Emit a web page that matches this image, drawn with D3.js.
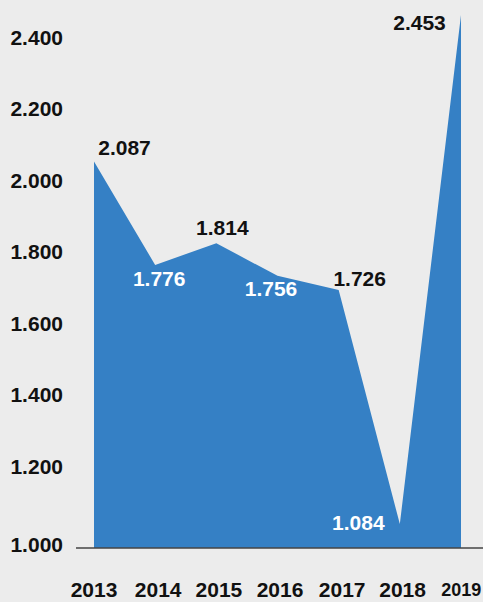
<!DOCTYPE html>
<html>
<head>
<meta charset="utf-8">
<script src="https://cdn.jsdelivr.net/npm/d3@7"></script>
<style>
  html, body { margin: 0; padding: 0; background: #ececec; }
  svg { display: block; }
  text { font-family: "Liberation Sans", Arial, Helvetica, sans-serif; font-weight: bold; }
</style>
</head>
<body>
<svg id="chart" width="483" height="602"></svg>
<script>
// ---- data ----
const years = ["2013", "2014", "2015", "2016", "2017", "2018", "2019"];
// heights as drawn in the picture
const plotValues = [2.065, 1.780, 1.840, 1.750, 1.711, 1.066, 2.469];
// values printed as labels
const labelValues = ["2.087", "1.776", "1.814", "1.756", "1.726", "1.084", "2.453"];
const yTicks = [1.0, 1.2, 1.4, 1.6, 1.8, 2.0, 2.2, 2.4];
const yTickLabels = ["1.000", "1.200", "1.400", "1.600", "1.800", "2.000", "2.200", "2.400"];

// ---- layout ----
const W = 483, H = 602;
const svg = d3.select("#chart");
svg.append("rect").attr("width", W).attr("height", H).attr("fill", "#ececec");

const x = d3.scalePoint().domain(years).range([94, 461]);
const y = d3.scaleLinear().domain([1.0, 2.4]).range([548, 40]);
// tick-label placement as laid out in the original graphic
const yLab = d3.scaleLinear().domain([1.2, 2.4]).range([466, 37]);

const data = years.map((yr, i) => ({ yr, v: plotValues[i], label: labelValues[i] }));

// area
const area = d3.area()
  .x(d => x(d.yr))
  .y0(y(1.0))
  .y1(d => y(d.v));
svg.append("path")
  .datum(data)
  .attr("d", area)
  .attr("fill", "#3580c5");

// baseline axis line
svg.append("line")
  .attr("x1", 76).attr("x2", W)
  .attr("y1", y(1.0)).attr("y2", y(1.0))
  .attr("stroke", "#444").attr("stroke-width", 1.3);

// y-axis labels
svg.append("g").selectAll("text")
  .data(yTicks)
  .join("text")
  .attr("x", 63)
  .attr("y", d => (d < 1.1 ? y(d) - 3.5 : yLab(d)))
  .attr("dy", "0.36em")
  .attr("text-anchor", "end")
  .attr("fill", "#111")
  .style("font-size", "21px")
  .text((d, i) => yTickLabels[i]);

// x-axis labels
const xOff = [0, 3, 2.6, 2.5, 3.5, 2.8, 0.3];
const xBase = [597, 597, 597, 597, 597, 597, 596];
const xSize = [21, 21, 21, 21, 21, 21, 18];
svg.append("g").selectAll("text")
  .data(years)
  .join("text")
  .attr("x", (d, i) => x(d) + xOff[i])
  .attr("y", (d, i) => xBase[i])
  .attr("text-anchor", "middle")
  .attr("fill", "#111")
  .style("font-size", (d, i) => xSize[i] + "px")
  .text(d => d);

// value labels: offsets relative to each point
const lab = [
  { dx: 30.5, dy: -6.5, c: "#111" },
  { dx: 4, dy: 21.5, c: "#fff" },
  { dx: 6, dy: -8.5, c: "#111" },
  { dx: -6.5, dy: 20.5, c: "#fff" },
  { dx: 21, dy: -4, c: "#111" },
  { dx: -41.5, dy: 6, c: "#fff" },
  { dx: -41.5, dy: 15.5, c: "#111" }
];
svg.append("g").selectAll("text")
  .data(data)
  .join("text")
  .attr("x", (d, i) => x(d.yr) + lab[i].dx)
  .attr("y", (d, i) => y(d.v) + lab[i].dy)
  .attr("text-anchor", "middle")
  .attr("fill", (d, i) => lab[i].c)
  .style("font-size", "21px")
  .text(d => d.label);
</script>
</body>
</html>
